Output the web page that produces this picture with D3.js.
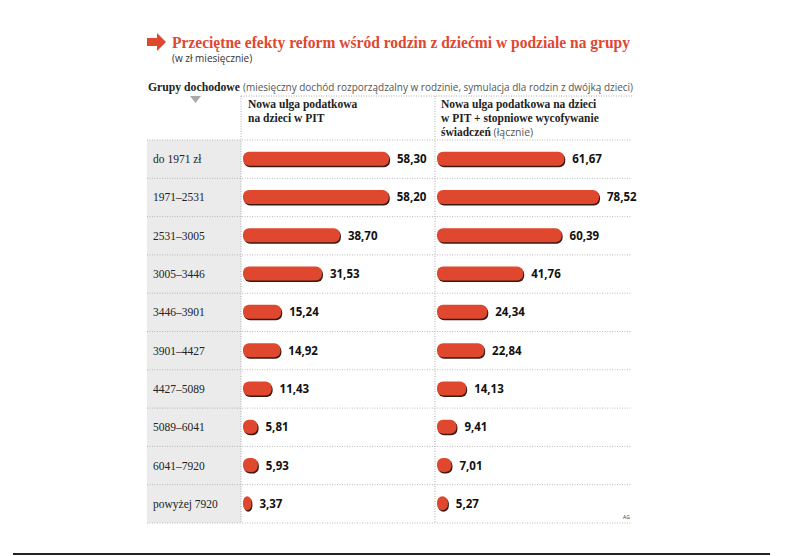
<!DOCTYPE html>
<html>
<head>
<meta charset="utf-8">
<script src="https://cdn.jsdelivr.net/npm/d3@7"></script>
<style>
  body { margin: 0; background: #fff; }
  svg { display: block; }
</style>
</head>
<body>
<svg id="chart" width="788" height="556"></svg>
<script>
// dane
var groups = ["do 1971 zł", "1971–2531", "2531–3005", "3005–3446", "3446–3901",
  "3901–4427", "4427–5089", "5089–6041", "6041–7920", "powyżej 7920"];
var ulgaPIT = [58.30, 58.20, 38.70, 31.53, 15.24, 14.92, 11.43, 5.81, 5.93, 3.37];
var ulgaLacznie = [61.67, 78.52, 60.39, 41.76, 24.34, 22.84, 14.13, 9.41, 7.01, 5.27];
var col1Head = ["Nowa ulga podatkowa", "na dzieci w PIT"];
var col2Head = ["Nowa ulga podatkowa na dzieci", "w PIT + stopniowe wycofywanie", "świadczeń"];

var red = "#e0472f";
var serif = "'Liberation Serif', 'DejaVu Serif', serif";
var sans = "'Open Sans', 'Noto Sans', sans-serif";

var svg = d3.select("#chart");

// tytul
svg.append("path")
  .attr("d", "M147,38 L157,38 L157,33 L166,42 L157,51 L157,46 L147,46 Z")
  .attr("fill", red);
svg.append("text")
  .attr("x", 172).attr("y", 48)
  .attr("font-family", serif).attr("font-weight", "bold").attr("font-size", 17)
  .attr("fill", red)
  .attr("textLength", 458).attr("lengthAdjust", "spacingAndGlyphs")
  .text("Przeciętne efekty reform wśród rodzin z dziećmi w podziale na grupy");
svg.append("text")
  .attr("x", 172).attr("y", 62)
  .attr("font-family", sans).attr("font-size", 10).attr("fill", "#333")
  .text("(w zł miesięcznie)");

// naglowek grup
svg.append("text").attr("x", 148).attr("y", 91)
  .attr("font-family", serif).attr("font-weight", "bold").attr("font-size", 12).attr("fill", "#222")
  .attr("textLength", 92).attr("lengthAdjust", "spacingAndGlyphs")
  .text("Grupy dochodowe");
svg.append("text").attr("x", 243).attr("y", 91)
  .attr("font-family", sans).attr("fill", "#555").attr("font-size", 11)
  .attr("textLength", 390).attr("lengthAdjust", "spacingAndGlyphs")
  .text("(miesięczny dochód rozporządzalny w rodzinie, symulacja dla rodzin z dwójką dzieci)");

svg.append("path").attr("d", "M190,96 L201,96 L195.5,103 Z").attr("fill", "#aaa");

var gLeft = 147, c1 = 241, c2 = 435, gRight = 632;
var gTop = 140, gBottom = 523;

var y = d3.scaleBand().domain(groups).range([gTop, gBottom]);
var x1 = d3.scaleLinear().domain([0, 58.3]).range([0, 146]);
var x2 = d3.scaleLinear().domain([0, 78.52]).range([0, 162]);

// tlo etykiet
svg.append("rect").attr("x", gLeft).attr("y", gTop).attr("width", c1 - gLeft).attr("height", gBottom - gTop)
  .attr("fill", "#ebebeb");

// linie siatki
var dot = "1,1.5";
svg.append("line").attr("x1", c1).attr("x2", gRight).attr("y1", 96).attr("y2", 96)
  .attr("stroke", "#999").attr("stroke-width", 0.8).attr("stroke-dasharray", dot);
[c1, c2].forEach(function(xx) {
  svg.append("line").attr("x1", xx).attr("x2", xx).attr("y1", 96).attr("y2", gBottom)
    .attr("stroke", "#999").attr("stroke-width", 0.8).attr("stroke-dasharray", dot);
});
svg.selectAll(".rowline").data(groups.concat(["end"])).enter().append("line")
  .attr("x1", gLeft).attr("x2", gRight)
  .attr("y1", function(d, i) { return gTop + i * y.step(); })
  .attr("y2", function(d, i) { return gTop + i * y.step(); })
  .attr("stroke", "#aaa").attr("stroke-width", 0.8).attr("stroke-dasharray", dot);

// naglowki kolumn
col1Head.forEach(function(t, i) {
  svg.append("text").attr("x", 248).attr("y", 108 + i * 14)
    .attr("font-family", serif).attr("font-weight", "bold").attr("font-size", 11.5).attr("fill", "#222")
    .text(t);
});
col2Head.forEach(function(t, i) {
  var tx = svg.append("text").attr("x", 441).attr("y", 108 + i * 14)
    .attr("font-size", 11.5).attr("fill", "#222");
  tx.append("tspan").attr("font-family", serif).attr("font-weight", "bold").text(t);
  if (i == 2) {
    tx.append("tspan").attr("font-family", sans).attr("font-size", 10.5).attr("fill", "#555").text(" (łącznie)");
  }
});

// etykiety grup
svg.selectAll(".glabel").data(groups).enter().append("text")
  .attr("x", 153)
  .attr("y", function(d) { return y(d) + y.bandwidth() / 2 + 4; })
  .attr("font-family", serif).attr("font-size", 11.5).attr("fill", "#222")
  .text(function(d) { return d; });

function fmt(v) { return v.toFixed(2).replace(".", ","); }

function drawBars(values, x, x0) {
  var g = svg.append("g");
  var w = function(d) { return Math.max(x(d), 7); };
  // cien
  g.selectAll(".shadow").data(values).enter().append("rect")
    .attr("x", x0 + 1)
    .attr("y", function(d, i) { return y(groups[i]) + y.bandwidth() / 2 - 6; })
    .attr("width", w)
    .attr("height", 14).attr("rx", 6)
    .attr("fill", "#3b1a12");
  g.selectAll(".bar").data(values).enter().append("rect")
    .attr("x", x0)
    .attr("y", function(d, i) { return y(groups[i]) + y.bandwidth() / 2 - 7.5; })
    .attr("width", w)
    .attr("height", 14).attr("rx", 6)
    .attr("fill", red);
  g.selectAll(".val").data(values).enter().append("text")
    .attr("x", function(d) { return x0 + w(d) + 8; })
    .attr("y", function(d, i) { return y(groups[i]) + y.bandwidth() / 2 + 4; })
    .attr("font-family", sans).attr("font-weight", "bold").attr("font-size", 11.5).attr("fill", "#111")
    .text(fmt);
}
drawBars(ulgaPIT, x1, c1 + 2);
drawBars(ulgaLacznie, x2, c2 + 2);

svg.append("text").attr("x", 623).attr("y", 519)
  .attr("font-family", sans).attr("font-size", 5).attr("fill", "#333").text("AG");

// linia dolna
svg.append("line").attr("x1", 13).attr("x2", 770).attr("y1", 554).attr("y2", 554)
  .attr("stroke", "#222").attr("stroke-width", 2);
</script>
</body>
</html>
